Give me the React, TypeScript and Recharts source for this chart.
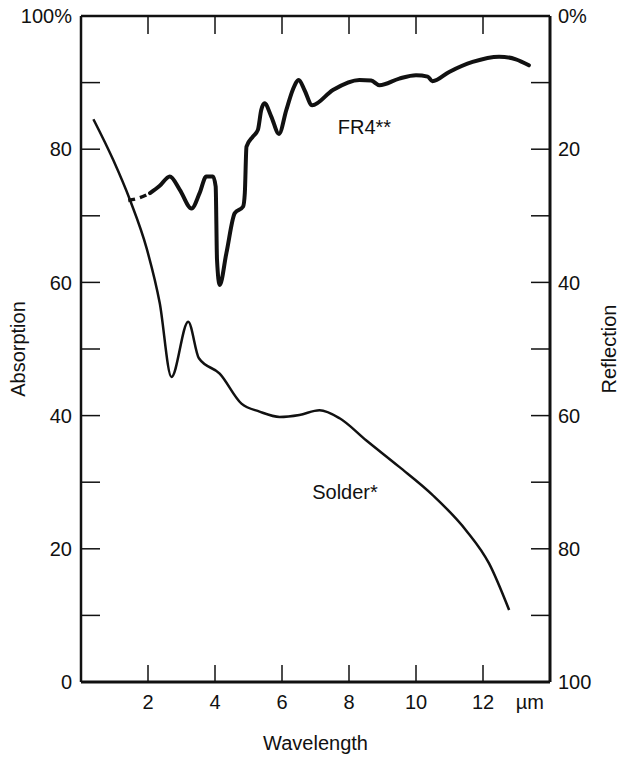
import React from 'react';
import {LineChart, Line, XAxis, YAxis, ReferenceDot} from 'recharts';

// wavelength (µm) / absorption (%)
const solderX = [0.37, 0.96, 1.46, 1.96, 2.35, 2.7, 3.2, 3.52, 4.14, 4.79, 5.33, 5.93, 6.52, 7.12, 7.72, 8.51, 9.5, 10.49, 11.49, 12.18, 12.78];
const solderY = [84.5, 78.4, 72.4, 65.1, 56.9, 45.8, 54.1, 48.6, 46.3, 41.8, 40.6, 39.8, 40.1, 40.8, 39.6, 36.3, 32.3, 28.1, 22.8, 17.8, 10.8];

// dashed start of the FR4 curve
const fr4DashX = [1.41, 1.75, 2.06];
const fr4DashY = [72.3, 72.7, 73.4];

const fr4X = [2.06, 2.35, 2.65, 2.95, 3.3, 3.54, 3.74, 3.94, 4.02, 4.06, 4.14, 4.34, 4.59, 4.84, 4.89, 4.94, 5.13, 5.28, 5.38, 5.48, 5.68, 5.91, 6.13, 6.32, 6.5, 6.67, 6.9, 7.52, 8.31, 8.66, 8.91, 9.5, 10.0, 10.35, 10.49, 10.99, 11.69, 12.48, 12.98, 13.37];
const fr4Y = [73.4, 74.5, 75.9, 73.9, 71.1, 73.4, 75.9, 75.9, 74.4, 63.4, 59.6, 64.4, 70.4, 71.4, 73.4, 80.4, 81.9, 82.9, 85.9, 86.9, 84.9, 82.3, 85.9, 88.9, 90.4, 88.9, 86.6, 88.9, 90.4, 90.3, 89.6, 90.6, 91.1, 90.9, 90.2, 91.6, 93.1, 93.9, 93.5, 92.6];

const xTicks = [2, 4, 6, 8, 10, 12];
const unitTick = 13.4;
const yTicks = [0, 10, 20, 30, 40, 50, 60, 70, 80, 90, 100];

const toPoints = (xs: number[], ys: number[]) => xs.map((x, i) => ({x, y: ys[i]}));

const solderData = toPoints(solderX, solderY);
const fr4DashData = toPoints(fr4DashX, fr4DashY);
const fr4Data = toPoints(fr4X, fr4Y);

const INK = '#111';
const FS = 20;
const tickFont = {fontSize: FS, fill: INK};
const markLine = {stroke: INK, strokeWidth: 1.5};

const CHART_H = 758;
const MARGIN_TOP = 16;
const X_AXIS_H = 76;
const PLOT_H = CHART_H - MARGIN_TOP - X_AXIS_H;
const X_TICK_GAP = 13;

const leftFmt = (v: number) => (v === 100 ? '100%' : v % 20 === 0 ? String(v) : '');
const rightFmt = (v: number) => (v === 0 ? '0%' : v % 20 === 0 ? String(v) : '');
const blank = () => '';

// bottom label plus the inward tick marks on the bottom and top frame
const WaveTick = (props: any) => {
    const {x, y, payload} = props;
    const isUnit = payload.value === unitTick;
    const base = y - X_TICK_GAP;
    const top = base - PLOT_H;
    return (
        <g>
            {!isUnit && <line x1={x} x2={x} y1={base} y2={base - 17} {...markLine}/>}
            {!isUnit && <line x1={x} x2={x} y1={top} y2={top + 18} {...markLine}/>}
            <text x={x} y={y} dy="0.71em" textAnchor="middle" fontSize={FS} fill={INK}>
                {isUnit ? 'µm' : payload.value}
            </text>
        </g>
    );
};

export default function App() {
    return (
        <div style={{position: 'absolute', left: 0, top: 0, fontFamily: '"Liberation Sans", Arial, sans-serif', background: '#fff'}}>
            <LineChart width={621} height={CHART_H} margin={{top: MARGIN_TOP, right: 0, bottom: 0, left: 0}}>
                <XAxis xAxisId="x" type="number" dataKey="x" domain={[0, 14]} allowDataOverflow
                       ticks={[...xTicks, unitTick]} interval={0} tick={<WaveTick/>}
                       tickLine={false} tickSize={0} tickMargin={X_TICK_GAP} height={X_AXIS_H}
                       axisLine={{stroke: INK, strokeWidth: 3}}
                       label={{value: 'Wavelength', position: 'insideBottom', offset: 8, fontSize: FS, fill: INK}}/>
                <XAxis xAxisId="xt" orientation="top" mirror type="number" domain={[0, 14]} allowDataOverflow
                       ticks={xTicks} tick={false} tickLine={false} axisLine={{stroke: INK, strokeWidth: 2.5}}/>
                <YAxis yAxisId="left" type="number" domain={[0, 100]} allowDataOverflow ticks={yTicks} interval={0}
                       tickFormatter={leftFmt} tick={tickFont} tickLine={false} tickSize={0} tickMargin={9}
                       width={81} axisLine={{stroke: INK, strokeWidth: 2.5}}
                       label={{value: 'Absorption', angle: -90, position: 'insideLeft', offset: 18, fontSize: FS, fill: INK, style: {textAnchor: 'middle'}}}/>
                <YAxis yAxisId="right" orientation="right" type="number" domain={[0, 100]} allowDataOverflow reversed
                       ticks={yTicks} interval={0} tickFormatter={rightFmt} tick={tickFont} tickLine={false}
                       tickSize={0} tickMargin={8} width={71} axisLine={{stroke: INK, strokeWidth: 3}}
                       label={{value: 'Reflection', angle: -90, position: 'insideRight', offset: 12, fontSize: FS, fill: INK, style: {textAnchor: 'middle'}}}/>

                {/* inward tick marks on the side frames */}
                <YAxis yAxisId="lt" mirror type="number" domain={[0, 100]} allowDataOverflow ticks={yTicks}
                       interval={0} tickFormatter={blank} tick={tickFont} axisLine={false} tickSize={19}
                       tickLine={markLine}/>
                <YAxis yAxisId="rt" orientation="right" mirror type="number" domain={[0, 100]} allowDataOverflow
                       ticks={yTicks} interval={0} tickFormatter={blank} tick={tickFont} axisLine={false}
                       tickSize={19} tickLine={markLine}/>

                <Line xAxisId="x" yAxisId="left" data={solderData} dataKey="y" type="monotone" stroke={INK}
                      strokeWidth={2.5} dot={false} isAnimationActive={false} strokeLinejoin="round"/>
                <Line xAxisId="x" yAxisId="left" data={fr4DashData} dataKey="y" type="monotone" stroke={INK}
                      strokeWidth={3.5} strokeDasharray="7 5" dot={false} isAnimationActive={false}/>
                <Line xAxisId="x" yAxisId="left" data={fr4Data} dataKey="y" type="monotone" stroke={INK}
                      strokeWidth={4} dot={false} isAnimationActive={false} strokeLinejoin="round"
                      strokeLinecap="round"/>

                <ReferenceDot xAxisId="x" yAxisId="left" x={8.46} y={83.4} r={0} fill="none" stroke="none"
                              label={{value: 'FR4**', position: 'center', fontSize: FS, fill: INK}}/>
                <ReferenceDot xAxisId="x" yAxisId="left" x={7.88} y={28.5} r={0} fill="none" stroke="none"
                              label={{value: 'Solder*', position: 'center', fontSize: FS, fill: INK}}/>
            </LineChart>
        </div>
    );
}
